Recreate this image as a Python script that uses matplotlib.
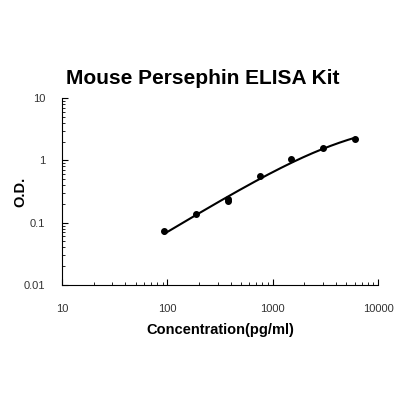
from matplotlib import pyplot as plt
import numpy as np

conc = [93.75, 187.5, 375, 375, 750, 1500, 3000, 6000]
od = [0.073, 0.14, 0.222, 0.24, 0.56, 1.04, 1.57, 2.19]

plt.rcParams['font.family'] = ['Liberation Sans', 'DejaVu Sans']

# logistic fit with zero floor: grid over b, c; top d solved by weighted least squares
x = np.array(conc)
y = np.array(od)
w = 1 / y
best = None
for b in np.linspace(0.5, 2.0, 151):
    for lc in np.linspace(2.5, 5.0, 251):
        g = 1 - 1 / (1 + (x / 10 ** lc) ** b)
        d = np.sum(g * w * y * w) / np.sum((g * w) ** 2)
        err = np.sum((d * g * w - y * w) ** 2)
        if best is None or err < best[0]:
            best = (err, b, lc, d)
_, b, lc, d = best
xs = np.logspace(np.log10(x.min()), np.log10(x.max()), 200)
ys = d * (1 - 1 / (1 + (xs / 10 ** lc) ** b))

fig = plt.figure(figsize=(4, 4), dpi=100)
ax = fig.add_axes([0.155, 0.2875, 0.79, 0.4675])
ax.plot(xs, ys, color='black', lw=1.5)
ax.plot(conc, od, 'o', color='black', ms=4)

ax.set_xscale('log')
ax.set_yscale('log')
ax.set_xlim(10, 10000)
ax.set_ylim(0.01, 10)
ax.set_xticks([10, 100, 1000, 10000])
ax.set_xticklabels(['10', '100', '1000', '10000'])
ax.set_yticks([0.01, 0.1, 1, 10])
ax.set_yticklabels(['0.01', '0.1', '1', '10'])
ax.tick_params(which='both', direction='in', labelsize=8, labelcolor='#333333')
ax.tick_params(axis='x', which='major', pad=14, length=4)
ax.tick_params(axis='y', which='major', pad=12, length=4)
ax.tick_params(which='minor', length=2.5)
ax.spines['top'].set_visible(False)
ax.spines['right'].set_visible(False)

fig.text(0.508, 0.805, 'Mouse Persephin ELISA Kit', fontsize=15, fontweight='bold',
         ha='center', va='center')
ax.set_xlabel('Concentration(pg/ml)', fontsize=10.5, fontweight='bold', labelpad=6)
ax.set_ylabel('O.D.', fontsize=10.5, fontweight='bold')
ax.yaxis.set_label_coords(-0.108, 0.5)

plt.savefig('out.png')
